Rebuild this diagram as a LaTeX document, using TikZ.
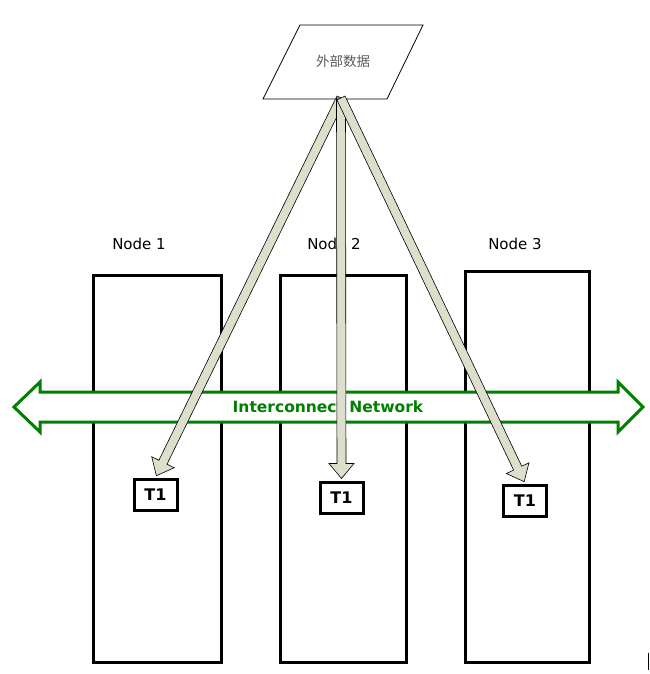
\documentclass[tikz,border=0pt]{standalone}
\usepackage{fontspec}
\setmainfont{DejaVu Sans}
\newfontfamily\cjkfont{Noto Sans CJK SC}
\usetikzlibrary{calc}

\definecolor{netgreen}{RGB}{0,128,0}
\definecolor{flowfill}{RGB}{221,223,204}

\newcommand{\fatarrow}[2]{%
  \coordinate (tip) at ($(#2)!2pt!(#1)$);
  \coordinate (hb) at ($(tip)!15pt!(#1)$);
  \draw[flow arrow] ($(#1)!4.5pt!90:(tip)$) -- ($(hb)!4.5pt!-90:(#1)$)
    -- ($(hb)!12.5pt!-90:(#1)$) -- (tip) -- ($(hb)!12.5pt!90:(#1)$)
    -- ($(hb)!4.5pt!90:(#1)$) -- ($(#1)!4.5pt!-90:(tip)$) -- cycle;}

\begin{document}
\begin{tikzpicture}[x=1pt,y=-1pt,
  column/.style={draw,line width=3pt,minimum width=#1,inner sep=0pt},
  column/.default=127pt,
  node label/.style={font=\fontsize{15}{18}\selectfont},
  task/.style={draw,line width=3pt,minimum width=43pt,minimum height=31pt,inner sep=0pt,
    font=\fontsize{16}{19}\selectfont\bfseries},
  net arrow/.style={draw=netgreen,line width=3pt,fill=white,line join=miter},
  flow arrow/.style={draw=black,line width=0.6pt,fill=flowfill,line join=miter}]

  \useasboundingbox (0,0) rectangle (649,674);

  \draw[line width=0.8pt] (300,25) -- (423,25) -- (387,99) -- (263,99) -- cycle;
  \node[font=\cjkfont\fontsize{13.5}{16}\selectfont,text=black!65] (ext) at (343,61) {外部数据};
  \coordinate (src) at (341,98);

  \node[column=128pt,minimum height=387pt] (n1) at (157,468.5) {};
  \node[column=126pt,minimum height=387pt] (n2) at (343,468.5) {};
  \node[column=124pt,minimum height=391pt] (n3) at (527,466.5) {};

  \node[node label] (l1) at (139,244) {Node 1};
  \node[node label] (l2) at (334,244) {Node 2};
  \node[node label] (l3) at (515,244) {Node 3};

  \draw[net arrow] (14,407) -- (40,382) -- (40,392) -- (618,392) -- (618,382)
    -- (643,407) -- (618,432) -- (618,422) -- (40,422) -- (40,432) -- cycle;
  \node[text=netgreen,font=\fontsize{15.5}{18}\selectfont\bfseries] (net) at (328,407)
    {Interconnect Network};

  \node[task] (t1) at (155.5,494.5) {T1};
  \node[task] (t2) at (341.5,497.5) {T1};
  \node[task] (t3) at (525,500.5) {T1};

  \fatarrow{src}{t1.north}
  \fatarrow{src}{t2.north}
  \fatarrow{src}{t3.north}

  \draw[line width=1pt] (648,653) -- (648,670);
\end{tikzpicture}
\end{document}
